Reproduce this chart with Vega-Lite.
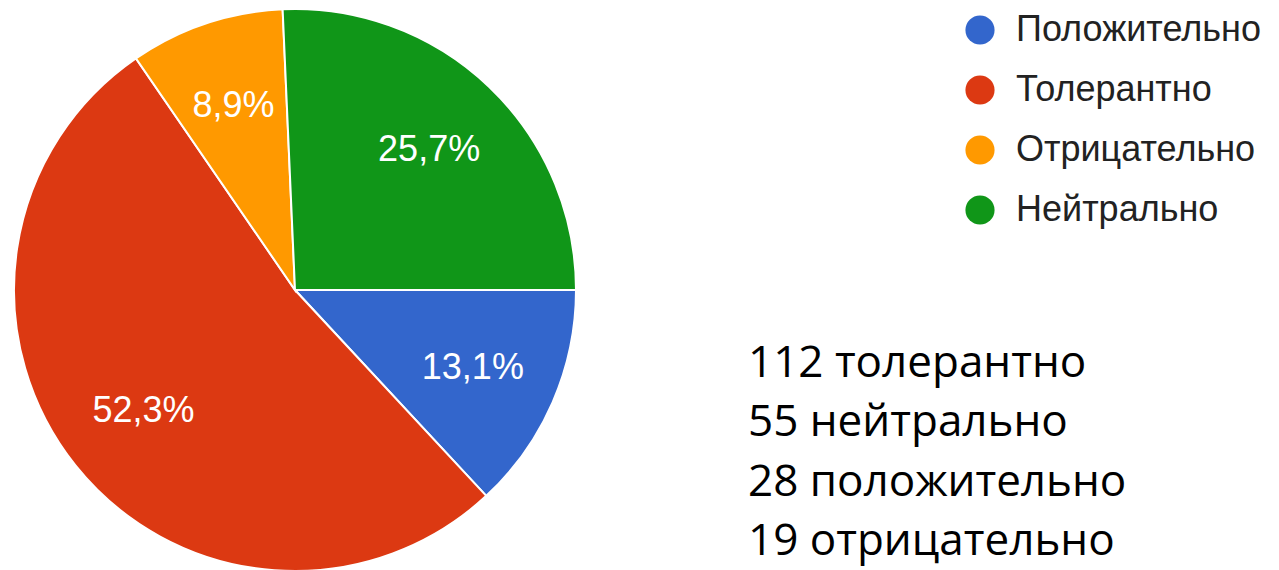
{
  "$schema": "https://vega.github.io/schema/vega-lite/v6.json",
  "background": "white",
  "padding": {"left": 10, "top": 5, "right": 0, "bottom": 0},
  "config": {"view": {"stroke": null}},
  "bounds": "flush",
  "spacing": 0,
  "hconcat": [
    {
      "width": 562,
      "height": 562,
      "data": {
        "values": [
          {"category": "Положительно", "count": 28, "label": "13,1%", "idx": 1},
          {"category": "Толерантно", "count": 112, "label": "52,3%", "idx": 2},
          {"category": "Отрицательно", "count": 19, "label": "8,9%", "idx": 3},
          {"category": "Нейтрально", "count": 55, "label": "25,7%", "idx": 4}
        ]
      },
      "encoding": {
        "theta": {"field": "count", "type": "quantitative", "stack": true, "scale": {"range": [1.5707963, 7.8539816]}},
        "order": {"field": "idx", "type": "quantitative"}
      },
      "layer": [
        {
          "mark": {"type": "arc", "stroke": "white", "strokeWidth": 2},
          "encoding": {
            "color": {
              "field": "category",
              "type": "nominal",
              "scale": {
                "domain": ["Положительно", "Толерантно", "Отрицательно", "Нейтрально"],
                "range": ["#3366cc", "#dc3912", "#ff9900", "#109618"]
              },
              "legend": {
                "title": null,
                "orient": "none",
                "legendX": 948,
                "legendY": 3,
                "padding": 0,
                "symbolType": "circle",
                "symbolSize": 850,
                "symbolStrokeWidth": 0,
                "labelFont": "Liberation Sans",
                "labelFontSize": 36,
                "labelColor": "#222222",
                "labelOffset": 18,
                "rowPadding": 24,
                "labelLimit": 400
              }
            }
          }
        },
        {
          "mark": {"type": "text", "radius": 194, "font": "Liberation Sans", "fontSize": 36, "fill": "white", "align": "center", "baseline": "middle"},
          "encoding": {
            "text": {"field": "label", "type": "nominal"},
            "detail": {"field": "category", "type": "nominal"}
          }
        }
      ]
    },
    {
      "width": 344,
      "height": 562,
      "data": {
        "values": [
          {"line": "112 толерантно", "pos": 1},
          {"line": "55 нейтрально", "pos": 2},
          {"line": "28 положительно", "pos": 3},
          {"line": "19 отрицательно", "pos": 4}
        ]
      },
      "mark": {"type": "text", "align": "left", "baseline": "middle", "font": "Open Sans", "fontSize": 44, "color": "black"},
      "encoding": {
        "y": {"field": "pos", "type": "quantitative", "axis": null, "scale": {"domain": [-4.98, 4.49], "reverse": true, "nice": false, "zero": false}},
        "text": {"field": "line", "type": "nominal"}
      }
    }
  ]
}
